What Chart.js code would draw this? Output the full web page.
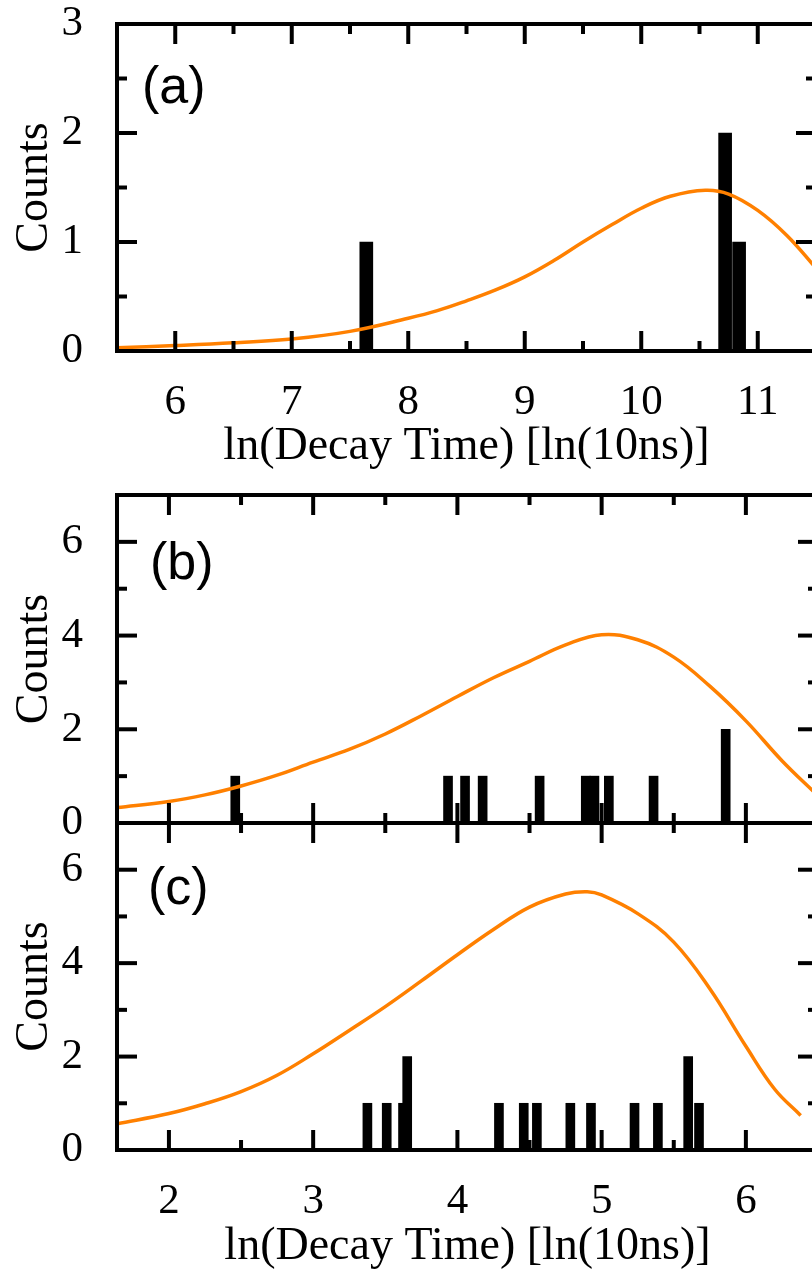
<!DOCTYPE html>
<html>
<head>
<meta charset="utf-8">
<title>Decay time histograms</title>
<script src="https://cdn.jsdelivr.net/npm/chart.js@4.4.1/dist/chart.umd.min.js"></script>
<style>
  html, body { margin: 0; padding: 0; background: #fff; overflow: hidden; }
  #wrap { position: relative; width: 812px; height: 1270px; overflow: hidden; }
  canvas { position: absolute; left: 0; }
  #chartA { top: 0; }
  #chartB { top: 470px; }
  #chartC { top: 800px; }
</style>
</head>
<body>
<div id="wrap">
  <canvas id="chartA" width="840" height="480"></canvas>
  <canvas id="chartB" width="840" height="380"></canvas>
  <canvas id="chartC" width="840" height="470"></canvas>
</div>
<script>
// panel (a)
const barsAX = [7.64, 10.72, 10.84];
const barsAY = [1, 2, 1];
const fitAX = [5.5, 6.0, 6.5, 7.0, 7.5, 8.0, 8.25, 8.5, 8.75, 9.0, 9.25, 9.5, 9.75, 10.0, 10.25, 10.55, 10.75, 11.0, 11.25, 11.5];
const fitAY = [0.03, 0.05, 0.075, 0.11, 0.18, 0.3, 0.37, 0.46, 0.56, 0.68, 0.83, 1.0, 1.16, 1.31, 1.42, 1.475, 1.44, 1.29, 1.06, 0.76];
const xTicksA = [6, 7, 8, 9, 10, 11];
const yTicksA = [0, 1, 2, 3];

// panel (b)
const barsBX = [2.46, 3.935, 4.053, 4.175, 4.57, 4.89, 4.95, 5.05, 5.36, 5.86];
const barsBY = [1, 1, 1, 1, 1, 1, 1, 1, 1, 2];
const fitBX = [1.64, 2.0, 2.25, 2.5, 2.75, 3.0, 3.25, 3.5, 3.75, 4.0, 4.25, 4.5, 4.75, 5.0, 5.25, 5.5, 5.75, 6.0, 6.25, 6.5];
const fitBY = [0.33, 0.46, 0.6, 0.79, 1.02, 1.3, 1.57, 1.9, 2.29, 2.7, 3.1, 3.45, 3.8, 4.02, 3.91, 3.54, 2.92, 2.18, 1.33, 0.58];

// panel (c)
const barsCX = [3.376, 3.51, 3.623, 3.652, 4.288, 4.46, 4.551, 4.783, 4.926, 5.228, 5.39, 5.6, 5.675];
const barsCY = [1, 1, 1, 2, 1, 1, 1, 1, 1, 1, 1, 2, 1];
const fitCX = [1.64, 2.0, 2.25, 2.5, 2.75, 3.0, 3.25, 3.5, 3.75, 4.0, 4.25, 4.5, 4.75, 4.9, 5.0, 5.25, 5.5, 5.75, 6.0, 6.2, 6.38];
const fitCY = [0.56, 0.78, 0.99, 1.25, 1.6, 2.06, 2.56, 3.07, 3.62, 4.18, 4.72, 5.2, 5.48, 5.53, 5.46, 5.06, 4.45, 3.45, 2.22, 1.3, 0.74];

const xTicksBC = [2, 3, 4, 5, 6];
const yTicksBC = [0, 2, 4, 6];

const xTitle = "ln(Decay Time) [ln(10ns)]";
const yTitle = "Counts";

const serif = '"Liberation Serif", "Times New Roman", serif';
const tickFont = { family: serif, size: 43, lineHeight: 1 };
const titleFont = { family: serif, size: 46, lineHeight: 1 };

function minorValues(scale, step) {
  const majors = scale.ticks.map((t) => t.value);
  const out = [];
  for (let i = Math.ceil(scale.min / step - 1e-9); i * step <= scale.max + 1e-9; i++) {
    const v = +(i * step).toFixed(6);
    if (!majors.some((m) => Math.abs(m - v) < 1e-6)) out.push(v);
  }
  return out;
}

// box frame with inward ticks on all four sides, plus the panel letter
const framePlugin = {
  id: "frame",
  afterDraw(chart, args, opts) {
    const { ctx, chartArea: a, scales } = chart;
    const x = scales.x, y = scales.y;
    ctx.save();
    ctx.strokeStyle = "#000";
    ctx.lineWidth = 4;
    ctx.strokeRect(a.left, a.top, a.right - a.left, a.bottom - a.top);

    function line(x1, y1, x2, y2) {
      ctx.beginPath();
      ctx.moveTo(x1, y1);
      ctx.lineTo(x2, y2);
      ctx.stroke();
    }
    function xTick(v, len) {
      const px = x.getPixelForValue(v);
      line(px, a.bottom, px, a.bottom - len);
      line(px, a.top, px, a.top + len);
    }
    function yTick(v, len) {
      const py = y.getPixelForValue(v);
      line(a.left, py, a.left + len, py);
      line(a.right, py, a.right - len, py);
    }
    x.ticks.forEach((t) => xTick(t.value, 20));
    minorValues(x, opts.xMinor).forEach((v) => xTick(v, 10));
    y.ticks.forEach((t) => yTick(t.value, 20));
    minorValues(y, opts.yMinor).forEach((v) => yTick(v, 10));

    ctx.fillStyle = "#000";
    ctx.font = '52px "Liberation Sans", Arial, sans-serif';
    ctx.textBaseline = "middle";
    ctx.fillText(opts.label, a.left + opts.labelDx, a.top + opts.labelDy);
    ctx.restore();
  },
};

function makePanel(id, cfg) {
  const toPoints = (xs, ys) => xs.map((v, i) => ({ x: v, y: ys[i] }));
  return new Chart(document.getElementById(id), {
    type: "bar",
    data: {
      datasets: [
        {
          type: "line",
          data: toPoints(cfg.fitX, cfg.fitY),
          borderColor: "#ff8000",
          borderWidth: 3.5,
          pointRadius: 0,
          tension: 0.4,
          order: 0,
        },
        {
          type: "bar",
          data: toPoints(cfg.barX, cfg.barY),
          backgroundColor: "#000",
          barThickness: cfg.barWidth,
          order: 1,
        },
      ],
    },
    options: {
      responsive: false,
      animation: false,
      layout: { padding: { top: cfg.top, right: cfg.right, left: 0, bottom: 0 } },
      plugins: {
        legend: { display: false },
        tooltip: { enabled: false },
        frame: { label: cfg.label, xMinor: 0.5, yMinor: cfg.yMinor, labelDx: cfg.labelDx, labelDy: cfg.labelDy },
      },
      scales: {
        x: {
          type: "linear",
          min: cfg.xMin,
          max: cfg.xMax,
          offset: false,
          grid: { display: false, offset: false },
          border: { display: false },
          afterBuildTicks: (s) => { s.ticks = cfg.xTicks.map((v) => ({ value: v })); },
          afterFit: (s) => { s.height = cfg.xHeight; s.paddingLeft = 0; s.paddingRight = 0; },
          ticks: { display: cfg.showX, padding: 22, color: "#000", font: tickFont, maxRotation: 0, autoSkip: false },
          title: { display: cfg.showX, text: xTitle, color: "#000", font: titleFont, padding: { top: 0, bottom: cfg.xTitlePad } },
        },
        y: {
          min: 0,
          max: cfg.yMax,
          grid: { display: false },
          border: { display: false },
          afterBuildTicks: (s) => { s.ticks = cfg.yTicks.map((v) => ({ value: v })); },
          afterFit: (s) => { s.width = 117; s.paddingTop = 0; s.paddingBottom = 0; },
          ticks: { padding: 26, color: "#000", font: tickFont, autoSkip: false },
          title: { display: true, text: yTitle, color: "#000", font: titleFont, padding: { top: 12, bottom: 0 } },
        },
      },
    },
    plugins: [framePlugin],
  });
}

makePanel("chartA", {
  barX: barsAX, barY: barsAY, fitX: fitAX, fitY: fitAY,
  xTicks: xTicksA, yTicks: yTicksA, xMin: 5.5, xMax: 11.5, yMax: 3, yMinor: 0.5,
  barWidth: 13, top: 24, right: 24, xHeight: 129, showX: true, xTitlePad: 10,
  label: "(a)", labelDx: 25, labelDy: 65,
});

makePanel("chartB", {
  barX: barsBX, barY: barsBY, fitX: fitBX, fitY: fitBY,
  xTicks: xTicksBC, yTicks: yTicksBC, xMin: 1.64, xMax: 6.5, yMax: 7, yMinor: 1,
  barWidth: 9, top: 25, right: 22, xHeight: 27, showX: false, xTitlePad: 0,
  label: "(b)", labelDx: 33, labelDy: 70,
});

makePanel("chartC", {
  barX: barsCX, barY: barsCY, fitX: fitCX, fitY: fitCY,
  xTicks: xTicksBC, yTicks: yTicksBC, xMin: 1.64, xMax: 6.5, yMax: 7, yMinor: 1,
  barWidth: 9, top: 23, right: 22, xHeight: 120, showX: true, xTitlePad: 0,
  label: "(c)", labelDx: 31, labelDy: 67,
});
</script>
</body>
</html>
